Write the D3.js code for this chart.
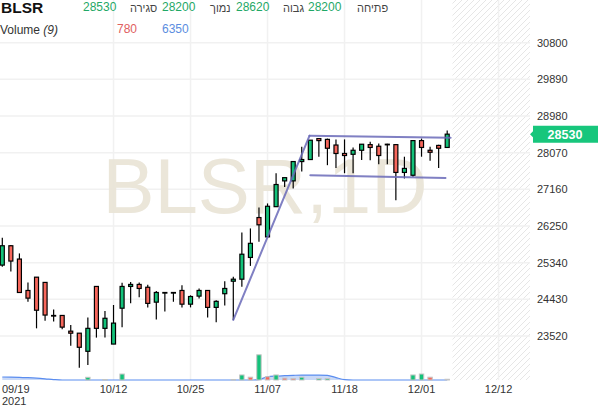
<!DOCTYPE html>
<html>
<head>
<meta charset="utf-8">
<script src="https://cdn.jsdelivr.net/npm/d3@7"></script>
<style>
body { margin: 0; background: #fff; }
svg { display: block; font-family: "Liberation Sans", Arial, sans-serif; }
</style>
</head>
<body>
<svg id="chart" width="600" height="408"></svg>
<script>
// daily candles, oldest first
var opens = [25280,25760,25430,24650,24980,24850,24030,24030,23640,23590,
  23140,24750,23710,23320,24210,24750,24800,24730,24360,24600,
  24600,24650,24310,24510,24650,24230,24570,24880,24930,25470,
  26460,25980,26730,27370,27370,27850,27900,28420,28400,28260,
  28050,28030,28130,28270,28230,28280,28270,27580,27510,28370,
  28130,28250,28200];
var highs = [25960,25780,25570,24850,24980,24860,24180,24040,23790,23590,
  23980,24760,24140,24290,24840,24860,24850,24790,24640,24610,
  24610,24780,24530,24700,24660,24410,24880,24990,26090,26190,
  26710,26810,27560,27450,27850,28220,28380,28430,28420,28400,
  28400,28200,28280,28340,28300,28290,28280,27970,28380,28420,
  28220,28270,28620];
var lows = [25240,25120,24600,24370,23710,23900,23880,23690,23280,22730,
  22800,23480,23480,23320,23740,24330,24480,24230,23930,24130,
  24370,24230,24230,24450,23980,23860,24280,23920,24740,25260,
  25860,25980,26730,27220,27180,27600,27900,27970,27760,27690,
  27560,27560,27890,27880,27780,27780,26890,27430,27470,27970,
  27870,27690,28200];
var closes = [25760,25380,24600,24460,24160,24040,24020,23740,23590,23240,
  23710,23710,23960,23840,24750,24800,24700,24330,24600,24600,
  24600,24310,24500,24650,24230,24380,24700,24930,25550,25820,
  26280,26740,27280,27450,27850,27900,28380,28370,28180,28050,
  28000,28130,28280,28200,28000,28280,27580,27680,28370,28200,
  28080,28180,28530];
var volumes = [0,0,0,0,0,0,0,0,0,0,
  2900,0,500,0,6400,0,0,0,0,0,
  0,0,0,0,0,0,0,500,5400,3000,
  27000,3500,5400,2000,1500,3000,0,1600,1600,0,
  0,0,0,0,0,0,0,0,5400,6400,
  3000,0,780];
// 1 = up bar, -1 = down bar
var volumeDir = [0,0,0,0,0,0,0,0,0,0,
  1,0,1,0,1,0,0,0,0,0,
  0,0,0,0,0,0,0,1,1,-1,
  1,-1,1,-1,-1,1,0,1,1,0,
  0,0,0,0,0,0,0,0,1,1,
  -1,0,-1];
var volumeMA = [3200,3100,2900,2500,2000,1300,500,0,0,0,
  0,0,0,0,0,0,0,0,0,0,
  0,0,0,0,0,0,0,0,0,0,
  500,3500,4200,4600,5000,5300,5300,5300,5000,2500,
  400,0,0,0,0,0,0,0,0,0,
  0,0,0];

var priceTicks = [23520,24430,25340,26250,27160,28070,28980,29890,30800];
var dateLabels = ['10/12','10/25','11/07','11/18','12/01','12/12'];
var dateIndex = [13,22,31,40,49,58];

// drawn trend lines: [index, price] pairs
var trendUp = [[27,23920],[35.9,28490]];
var trendTop = [[35.9,28490],[52.4,28440]];
var trendBottom = [[36,27510],[51.8,27440]];

var header = {open:28200, high:28620, low:28200, close:28530, vol:780, volAvg:6350};

var green = '#13c27a', red = '#f7675c';

var svg = d3.select('#chart');
var plotRight = 530, volBottom = 380;

var x = d3.scaleLinear().domain([0, 52]).range([2.3, 447.2]);
var y = d3.scaleLinear().domain([23520, 30800]).range([336, 42.7]);
var vy = d3.scaleLinear().domain([0, 30000]).range([volBottom, 352]);

svg.append('rect').attr('width', 600).attr('height', 408).attr('fill', '#fff');

// hatched future area
var defs = svg.append('defs');
var pat = defs.append('pattern').attr('id', 'hatch').attr('patternUnits', 'userSpaceOnUse')
  .attr('width', 6).attr('height', 6);
pat.append('path').attr('d', 'M-1,1 l2,-2 M0,6 l6,-6 M5,7 l2,-2')
  .attr('stroke', '#e6e6e6').attr('stroke-width', 1);
svg.append('rect').attr('x', x(52.5) + 1).attr('y', 0)
  .attr('width', plotRight - x(52.5) - 1).attr('height', volBottom)
  .attr('fill', 'url(#hatch)');

// grid
svg.append('g').selectAll('line').data(priceTicks).join('line')
  .attr('x1', 0).attr('x2', plotRight)
  .attr('y1', d => y(d)).attr('y2', d => y(d))
  .attr('stroke', '#f1f1f1').attr('stroke-width', 1.5);
svg.append('g').selectAll('line').data(dateIndex).join('line')
  .attr('x1', d => x(d)).attr('x2', d => x(d))
  .attr('y1', 0).attr('y2', volBottom)
  .attr('stroke', '#f1f1f1').attr('stroke-width', 1.5);

// watermark
svg.append('text').attr('x', 265).attr('y', 213).attr('text-anchor', 'middle')
  .attr('font-size', 78).attr('fill', '#eae5d8').attr('opacity', 0.95)
  .text('BLSR,1D');

// volume average area
var area = d3.area().x((d, i) => x(i)).y0(volBottom).y1(d => vy(d)).curve(d3.curveMonotoneX);
var vline = d3.line().x((d, i) => x(i)).y(d => vy(d)).curve(d3.curveMonotoneX);
svg.append('path').attr('d', area(volumeMA)).attr('fill', '#bccff5').attr('opacity', 0.8);
svg.append('path').attr('d', vline(volumeMA)).attr('fill', 'none')
  .attr('stroke', '#5b8def').attr('stroke-width', 1.2);

// volume bars
var idx = d3.range(opens.length);
svg.append('g').selectAll('rect').data(idx.filter(i => volumes[i] > 0)).join('rect')
  .attr('x', i => x(i) - 2.2).attr('width', 4.4)
  .attr('y', i => vy(volumes[i])).attr('height', i => volBottom - vy(volumes[i]))
  .attr('fill', i => volumeDir[i] < 0 ? red : green)
  .attr('stroke', '#c4c4c4').attr('stroke-width', 1);

// candles
var cg = svg.append('g').selectAll('g').data(idx).join('g');
cg.append('line')
  .attr('x1', i => x(i)).attr('x2', i => x(i))
  .attr('y1', i => y(highs[i])).attr('y2', i => y(lows[i]))
  .attr('stroke', '#000').attr('stroke-width', 1.2);
cg.append('rect')
  .attr('x', i => x(i) - 2).attr('width', 4)
  .attr('y', i => y(Math.max(opens[i], closes[i])))
  .attr('height', i => Math.max(0.6, Math.abs(y(opens[i]) - y(closes[i]))))
  .attr('fill', i => closes[i] >= opens[i] ? green : red)
  .attr('stroke', '#000').attr('stroke-width', 1.2);

// trend lines
[trendUp, trendTop, trendBottom].forEach(function (t) {
  svg.append('line')
    .attr('x1', x(t[0][0])).attr('y1', y(t[0][1]))
    .attr('x2', x(t[1][0])).attr('y2', y(t[1][1]))
    .attr('stroke', '#6a6ab9').attr('stroke-width', 2).attr('opacity', 0.85)
    .attr('stroke-linecap', 'round');
});

// price axis on the right
svg.append('g').selectAll('text').data(priceTicks).join('text')
  .attr('x', 537).attr('y', d => y(d) + 4)
  .attr('font-size', 11).attr('fill', '#333')
  .text(d => d);

var ly = y(header.close);
svg.append('path')
  .attr('d', 'M530,' + ly + ' L533,' + (ly - 3) + ' L533,' + (ly - 8.5) + ' L598,' + (ly - 8.5) +
    ' L598,' + (ly + 8.5) + ' L533,' + (ly + 8.5) + ' L533,' + (ly + 3) + ' Z')
  .attr('fill', '#17c67c');
svg.append('text').attr('x', 565).attr('y', ly + 4.5).attr('text-anchor', 'middle')
  .attr('font-size', 12.5).attr('font-weight', 'bold').attr('fill', '#fff')
  .text(header.close);

// date axis
svg.append('g').selectAll('text').data(dateIndex).join('text')
  .attr('x', d => x(d)).attr('y', 392.5).attr('text-anchor', 'middle')
  .attr('font-size', 11).attr('fill', '#333')
  .text((d, i) => dateLabels[i]);
svg.append('text').attr('x', 2).attr('y', 392.5).attr('font-size', 11).attr('fill', '#333').text('09/19');
svg.append('text').attr('x', 2).attr('y', 404.5).attr('font-size', 11).attr('fill', '#333').text('2021');

// legend header
svg.append('text').attr('x', 1).attr('y', 13).attr('font-size', 15.5).attr('font-weight', 'bold')
  .attr('fill', '#111').text('BLSR');
// [text, left x, colour, baseline, size]
var hdr = [
  [header.close, 83, '#1fa866', 10.5, 12], ['סגירה', 130, '#444', 12, 11],
  [header.low, 162, '#1fa866', 10.5, 12], ['נמוך', 210, '#444', 12, 11],
  [header.high, 236, '#1fa866', 10.5, 12], ['גבוה', 283, '#444', 12, 11],
  [header.open, 308, '#1fa866', 10.5, 12], ['פתיחה', 357, '#444', 12, 11]
];
svg.append('g').selectAll('text').data(hdr).join('text')
  .attr('x', d => d[1]).attr('y', d => d[3])
  .attr('font-size', d => d[4])
  .attr('fill', d => d[2]).text(d => d[0]);

var vt = svg.append('text').attr('x', 0).attr('y', 34).attr('font-size', 12).attr('fill', '#333');
vt.append('tspan').text('Volume ');
vt.append('tspan').attr('font-style', 'italic').text('(9)');
svg.append('text').attr('x', 117).attr('y', 32.5)
  .attr('font-size', 12).attr('fill', '#e06060').text(header.vol);
svg.append('text').attr('x', 162).attr('y', 32.5)
  .attr('font-size', 12).attr('fill', '#5b8de0').text(header.volAvg);
</script>
</body>
</html>
